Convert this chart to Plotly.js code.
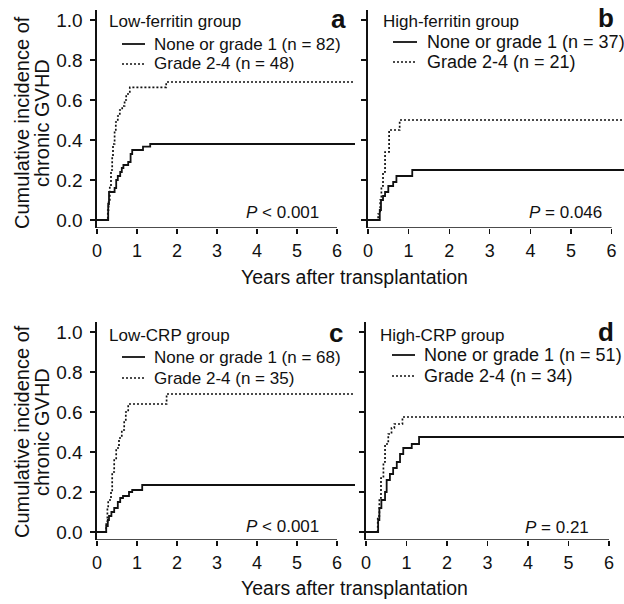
<!DOCTYPE html>
<html>
<head>
<meta charset="utf-8">
<script src="https://cdn.plot.ly/plotly-3.0.1.min.js"></script>
<style>html,body{margin:0;padding:0;background:#fff;}#chart{width:624px;height:604px;}</style>
</head>
<body>
<div id="chart"></div>
<script>
// ---- Data ----
const panelLetters = ["a", "b", "c", "d"];
const groupNames = ["Low-ferritin group", "High-ferritin group", "Low-CRP group", "High-CRP group"];
const seriesLow = ["None or grade 1 (n = 82)", "None or grade 1 (n = 37)", "None or grade 1 (n = 68)", "None or grade 1 (n = 51)"];
const seriesHigh = ["Grade 2-4 (n = 48)", "Grade 2-4 (n = 21)", "Grade 2-4 (n = 35)", "Grade 2-4 (n = 34)"];
const pValues = ["<i>P</i> < 0.001", "<i>P</i> = 0.046", "<i>P</i> < 0.001", "<i>P</i> = 0.21"];
const xTicks = [0, 1, 2, 3, 4, 5, 6];
const yTicks = [0, 0.2, 0.4, 0.6, 0.8, 1.0];
const yTickText = ["0.0", "0.2", "0.4", "0.6", "0.8", "1.0"];

// Panel a - Low ferritin
const tA_none = [0, 0.28, 0.30, 0.44, 0.48, 0.52, 0.58, 0.62, 0.66, 0.78, 0.84, 0.88, 1.15, 1.33, 6.45];
const yA_none = [0, 0.08, 0.14, 0.16, 0.20, 0.22, 0.24, 0.26, 0.275, 0.29, 0.33, 0.35, 0.367, 0.38, 0.38];
const tA_grade = [0, 0.27, 0.29, 0.32, 0.35, 0.38, 0.40, 0.44, 0.47, 0.52, 0.57, 0.63, 0.69, 0.73, 0.82, 1.73, 6.45];
const yA_grade = [0, 0.05, 0.10, 0.17, 0.25, 0.32, 0.38, 0.45, 0.49, 0.52, 0.55, 0.57, 0.60, 0.63, 0.663, 0.69, 0.69];

// Panel b - High ferritin
const tB_none = [0, 0.29, 0.32, 0.37, 0.42, 0.50, 0.62, 0.70, 1.09, 6.45];
const yB_none = [0, 0.05, 0.10, 0.12, 0.14, 0.17, 0.19, 0.22, 0.25, 0.25];
const tB_grade = [0, 0.25, 0.30, 0.33, 0.37, 0.42, 0.52, 0.78, 6.45];
const yB_grade = [0, 0.03, 0.10, 0.17, 0.24, 0.34, 0.45, 0.50, 0.50];

// Panel c - Low CRP
const tC_none = [0, 0.23, 0.27, 0.30, 0.36, 0.43, 0.52, 0.58, 0.65, 0.80, 0.88, 1.13, 6.45];
const yC_none = [0, 0.03, 0.06, 0.08, 0.10, 0.12, 0.15, 0.17, 0.18, 0.20, 0.21, 0.235, 0.235];
const tC_grade = [0, 0.23, 0.26, 0.28, 0.35, 0.38, 0.43, 0.48, 0.55, 0.62, 0.68, 0.72, 0.78, 1.74, 6.45];
const yC_grade = [0, 0.05, 0.12, 0.16, 0.20, 0.30, 0.36, 0.42, 0.47, 0.51, 0.55, 0.60, 0.64, 0.69, 0.69];

// Panel d - High CRP
const tD_none = [0, 0.30, 0.33, 0.38, 0.47, 0.51, 0.59, 0.67, 0.76, 0.84, 0.92, 1.13, 1.31, 6.45];
const yD_none = [0, 0.06, 0.12, 0.16, 0.20, 0.26, 0.29, 0.32, 0.35, 0.39, 0.42, 0.44, 0.475, 0.475];
const tD_grade = [0, 0.29, 0.33, 0.37, 0.43, 0.47, 0.55, 0.63, 0.70, 0.90, 6.45];
const yD_grade = [0, 0.08, 0.17, 0.27, 0.35, 0.44, 0.49, 0.52, 0.54, 0.575, 0.575];

const noneT = [tA_none, tB_none, tC_none, tD_none];
const noneY = [yA_none, yB_none, yC_none, yD_none];
const gradeT = [tA_grade, tB_grade, tC_grade, tD_grade];
const gradeY = [yA_grade, yB_grade, yC_grade, yD_grade];

// ---- Layout geometry (pixels) ----
const W = 624, H = 604;
const FONT = "Liberation Sans, Arial, Helvetica, sans-serif";
const INK = "#111";
const px = x => x / W;
const py = y => 1 - y / H;

const geo = [
  {left: 97, ppy: 40.0, top: 10, bottom: 228},
  {left: 368, ppy: 40.6, top: 10, bottom: 228},
  {left: 97, ppy: 40.0, top: 322, bottom: 540},
  {left: 366, ppy: 40.5, top: 322, bottom: 540}
];
const legendPos = [
  {title: [107, 22], line: [122, 145], text: 152, rows: [44, 64], fs: 17},
  {title: [381, 22], line: [393, 417], text: 425, rows: [42, 62], fs: 18},
  {title: [107, 335], line: [122, 145], text: 152, rows: [357, 378], fs: 17},
  {title: [378, 335], line: [392, 415], text: 422, rows: [355, 376], fs: 18}
];
const letterPos = [[338, 19], [606, 18], [336, 333], [606, 332]];
const pPos = [[321, 213], [604, 212], [321, 526], [591, 527]];

const traces = [];
const layout = {
  width: W, height: H,
  margin: {l: 0, r: 0, t: 0, b: 0},
  paper_bgcolor: "#fff", plot_bgcolor: "rgba(0,0,0,0)",
  showlegend: false,
  font: {family: FONT, color: INK, size: 17},
  annotations: [], shapes: []
};

geo.forEach((g, i) => {
  const n = i + 1;
  const xa = "xaxis" + (n === 1 ? "" : n), ya = "yaxis" + (n === 1 ? "" : n);
  const xr = "x" + (n === 1 ? "" : n), yr = "y" + (n === 1 ? "" : n);
  const right = Math.min(W, g.left + 6.45 * g.ppy);
  const xmax = (right - g.left) / g.ppy;
  layout[xa] = {
    domain: [px(g.left), px(right)], range: [0, xmax], anchor: yr,
    showline: false, zeroline: false, showgrid: false,
    ticks: "outside", ticklen: 5, tickwidth: 1.4, tickcolor: INK,
    tickvals: xTicks, ticktext: xTicks.map(String),
    tickfont: {family: FONT, size: 18, color: INK}, ticklabelstandoff: 1
  };
  layout[ya] = {
    domain: [py(g.bottom), py(g.top)], range: [-0.04, 1.05], anchor: xr,
    showline: true, linecolor: INK, linewidth: 1.6, mirror: false,
    zeroline: false, showgrid: false,
    ticks: "outside", ticklen: 5, tickwidth: 1.4, tickcolor: INK,
    tickvals: yTicks, ticktext: yTickText,
    showticklabels: (i % 2 === 0),
    tickfont: {family: FONT, size: 19, color: INK}, ticklabelstandoff: 4
  };
  layout.shapes.push({type: "line", xref: xr, yref: yr, x0: 0, x1: 6, y0: -0.04, y1: -0.04,
    line: {color: INK, width: 1.6}});

  traces.push({x: noneT[i], y: noneY[i], xaxis: xr, yaxis: yr, type: "scatter", mode: "lines",
    name: seriesLow[i], line: {shape: "hv", color: INK, width: 1.8}, hoverinfo: "x+y"});
  traces.push({x: gradeT[i], y: gradeY[i], xaxis: xr, yaxis: yr, type: "scatter", mode: "lines",
    name: seriesHigh[i], line: {shape: "hv", color: INK, width: 1.7, dash: "2px,2px"}, hoverinfo: "x+y"});

  const L = legendPos[i];
  layout.annotations.push({xref: "paper", yref: "paper", x: px(L.title[0]), y: py(L.title[1]),
    xanchor: "left", yanchor: "middle", showarrow: false, text: groupNames[i],
    font: {family: FONT, size: 17, color: INK}});
  layout.annotations.push({xref: "paper", yref: "paper", x: px(L.text), y: py(L.rows[0]),
    xanchor: "left", yanchor: "middle", showarrow: false, text: seriesLow[i],
    font: {family: FONT, size: L.fs, color: INK}});
  layout.annotations.push({xref: "paper", yref: "paper", x: px(L.text), y: py(L.rows[1]),
    xanchor: "left", yanchor: "middle", showarrow: false, text: seriesHigh[i],
    font: {family: FONT, size: L.fs, color: INK}});
  layout.shapes.push({type: "line", xref: "paper", yref: "paper", x0: px(L.line[0]), x1: px(L.line[1]),
    y0: py(L.rows[0]), y1: py(L.rows[0]), line: {color: INK, width: 1.8}});
  layout.shapes.push({type: "line", xref: "paper", yref: "paper", x0: px(L.line[0]), x1: px(L.line[1]),
    y0: py(L.rows[1]), y1: py(L.rows[1]), line: {color: INK, width: 1.7, dash: "2px,2px"}});

  layout.annotations.push({xref: "paper", yref: "paper", x: px(letterPos[i][0]), y: py(letterPos[i][1]),
    xanchor: "center", yanchor: "middle", showarrow: false, text: "<b>" + panelLetters[i] + "</b>",
    font: {family: FONT, size: 26, color: INK}});
  layout.annotations.push({xref: "paper", yref: "paper", x: px(pPos[i][0]), y: py(pPos[i][1]),
    xanchor: "right", yanchor: "middle", showarrow: false, text: pValues[i],
    font: {family: FONT, size: 17, color: INK}});
});

[277, 588].forEach(y => {
  layout.annotations.push({xref: "paper", yref: "paper", x: px(354), y: py(y),
    xanchor: "center", yanchor: "middle", showarrow: false, text: "Years after transplantation",
    font: {family: FONT, size: 19.5, color: INK}});
});
[123, 432].forEach(yc => {
  layout.annotations.push({xref: "paper", yref: "paper", x: px(22), y: py(yc),
    xanchor: "center", yanchor: "middle", showarrow: false, textangle: -90,
    text: "Cumulative incidence of", font: {family: FONT, size: 20, color: INK}});
  layout.annotations.push({xref: "paper", yref: "paper", x: px(42), y: py(yc),
    xanchor: "center", yanchor: "middle", showarrow: false, textangle: -90,
    text: "chronic GVHD", font: {family: FONT, size: 20, color: INK}});
});

Plotly.newPlot("chart", traces, layout, {staticPlot: true, displayModeBar: false});
</script>
</body>
</html>
